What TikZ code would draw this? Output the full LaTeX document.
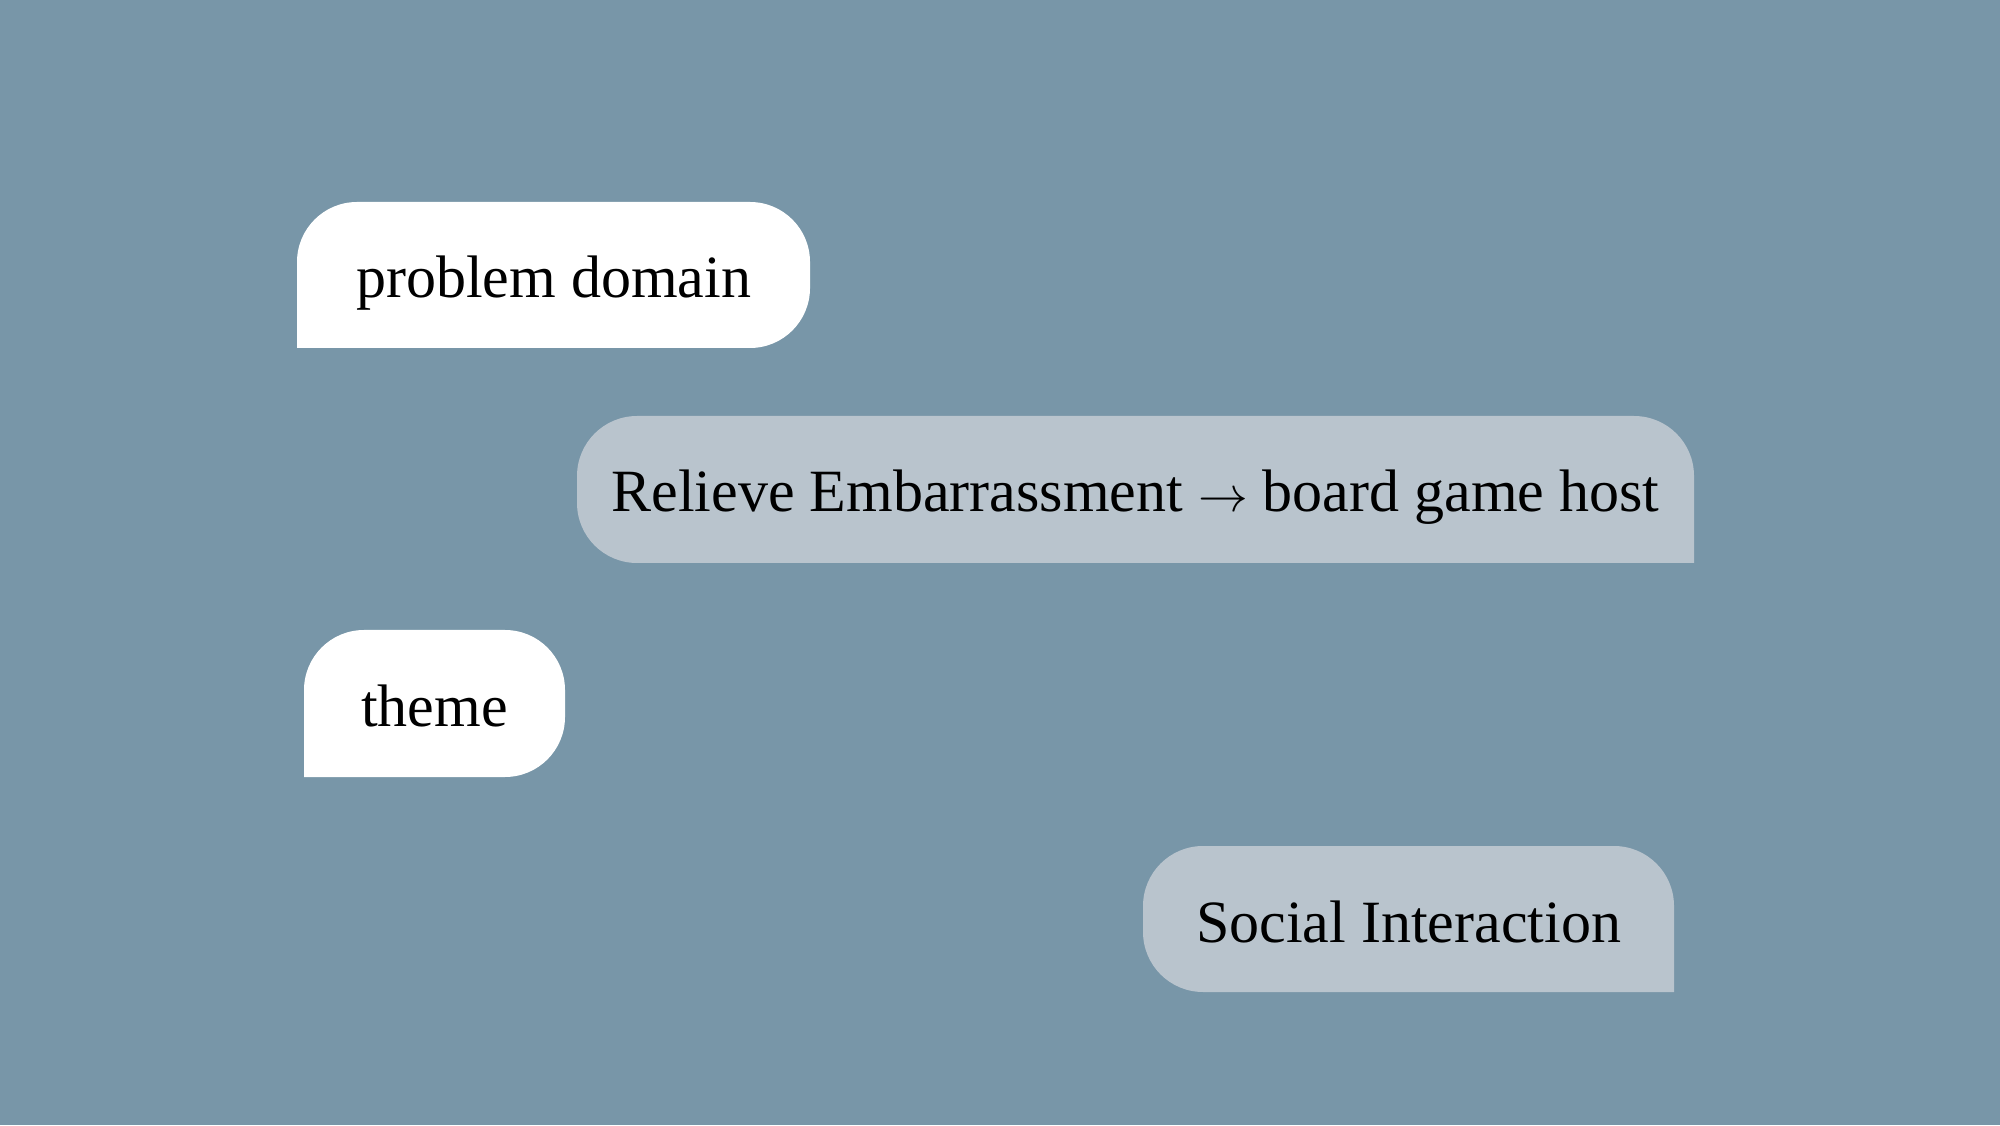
\documentclass[tikz,border=0pt]{standalone}
\usepackage{fontspec}
\setmainfont{Liberation Serif}
\definecolor{bgc}{HTML}{7896A8}
\definecolor{greyb}{HTML}{B9C4CD}
\begin{document}
\begin{tikzpicture}[x=0.5pt,y=0.5pt,
  lbl/.style={anchor=base,inner sep=0pt,font=\fontsize{30pt}{36pt}\selectfont,text=black}]
\useasboundingbox (0,0) rectangle (2000,1125);
\fill[bgc] (0,0) rectangle (2000,1125);
% bubble 1: problem domain (bottom-left square)
\fill[white] (297,777) -- (297,863) arc[start angle=180,end angle=90,radius=30pt]
  -- (750,923) arc[start angle=90,end angle=0,radius=30pt]
  -- (810,837) arc[start angle=0,end angle=-90,radius=30pt] -- cycle;
\node[lbl] (pd) at (553.5,827) {problem domain};
% bubble 2 (bottom-right square)
\fill[greyb] (1694,562) -- (637,562) arc[start angle=270,end angle=180,radius=30pt]
  -- (577,649) arc[start angle=180,end angle=90,radius=30pt]
  -- (1634,709) arc[start angle=90,end angle=0,radius=30pt] -- cycle;
\node[lbl] (reb) at (1135.5,613) {Relieve Embarrassment $\rightarrow$ board game host};
% bubble 3: theme (bottom-left square)
\fill[white] (304,348) -- (304,435) arc[start angle=180,end angle=90,radius=30pt]
  -- (505,495) arc[start angle=90,end angle=0,radius=30pt]
  -- (565,408) arc[start angle=0,end angle=-90,radius=30pt] -- cycle;
\node[lbl] (th) at (434.5,399) {theme};
% bubble 4: Social Interaction (bottom-right square)
\fill[greyb] (1674,133) -- (1203,133) arc[start angle=270,end angle=180,radius=30pt]
  -- (1143,219) arc[start angle=180,end angle=90,radius=30pt]
  -- (1614,279) arc[start angle=90,end angle=0,radius=30pt] -- cycle;
\node[lbl] (si) at (1408.5,183) {Social Interaction};
\end{tikzpicture}
\end{document}
